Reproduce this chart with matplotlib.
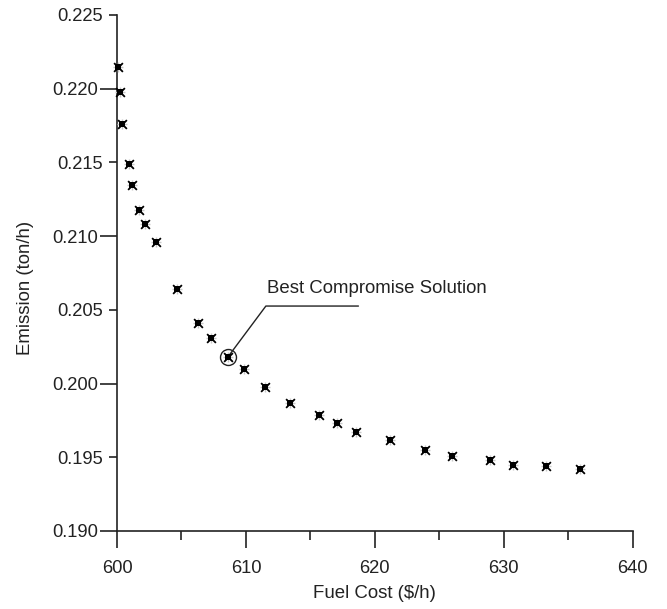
import numpy as np
import matplotlib
matplotlib.use("Agg")
import matplotlib.pyplot as plt
from matplotlib.ticker import MultipleLocator, FormatStrFormatter, NullFormatter

plt.rcParams["font.family"] = ["Liberation Sans", "DejaVu Sans"]

# Pareto front: fuel cost vs emission
fuel_cost = [600.08, 600.23, 600.39, 600.97, 601.16, 601.71, 602.17, 603.02,
             604.65, 606.28, 607.29, 608.60, 609.84, 611.47, 613.41, 615.66,
             617.09, 618.57, 621.16, 623.88, 625.97, 628.95, 630.70, 633.26,
             635.89]
emission = [0.2215, 0.2198, 0.2176, 0.2149, 0.2135, 0.2118, 0.2108, 0.2096,
            0.2064, 0.2041, 0.2031, 0.2018, 0.2010, 0.1998, 0.1987, 0.1979,
            0.1973, 0.1967, 0.1962, 0.1955, 0.1951, 0.1948, 0.1945, 0.1944,
            0.1942]
best_idx = 11
best_label = "Best Compromise Solution"

fig = plt.figure(figsize=(6.67, 6.09), dpi=100)
ax = fig.add_axes([0.1754, 0.1281, 0.7732, 0.8473])

# star-like markers: grey halo + black cross + black square core
ax.scatter(fuel_cost, emission, marker="+", s=50, color="#c8c8c8", lw=1.0,
           clip_on=False, zorder=3)
ax.scatter(fuel_cost, emission, marker="x", s=40, color="black", lw=1.3,
           clip_on=False, zorder=4)
ax.scatter(fuel_cost, emission, marker="s", s=14, color="black", lw=0,
           clip_on=False, zorder=5)

bx, by = fuel_cost[best_idx], emission[best_idx]
ax.plot([bx], [by], marker="o", ms=11.5, mfc="none", mec="#222222", mew=1.0,
        zorder=6)
# leader line: diagonal up to the elbow, then horizontal
ax.annotate("", xy=(bx, by), xycoords="data",
            xytext=(94, 36.7), textcoords="offset points",
            arrowprops=dict(arrowstyle="-", color="#222222", lw=1.0,
                            shrinkA=0, shrinkB=0,
                            connectionstyle="angle,angleA=0,angleB=53.3,rad=0"))
ax.annotate(best_label, xy=(bx, by), xycoords="data",
            xytext=(28, 49), textcoords="offset points",
            ha="left", va="center", fontsize=13.4, color="#222222")

ax.set_xlim(600, 640)
ax.set_ylim(0.190, 0.225)
for s in ("top", "right"):
    ax.spines[s].set_visible(False)
for s in ("left", "bottom"):
    ax.spines[s].set_linewidth(1.2)
    ax.spines[s].set_color("#222222")

ax.xaxis.set_major_locator(MultipleLocator(10))
ax.xaxis.set_minor_locator(MultipleLocator(5))
ax.xaxis.set_minor_formatter(NullFormatter())
ax.yaxis.set_major_locator(MultipleLocator(0.01))
ax.yaxis.set_minor_locator(MultipleLocator(0.005))
ax.yaxis.set_major_formatter(FormatStrFormatter("%.3f"))
ax.yaxis.set_minor_formatter(FormatStrFormatter("%.3f"))

ax.tick_params(axis="x", which="major", direction="out", length=12.2, width=1.2,
               pad=8.5, labelsize=13.2, colors="#222222")
ax.tick_params(axis="x", which="minor", direction="out", length=6.5, width=1.2,
               colors="#222222")
ax.tick_params(axis="y", which="major", direction="out", length=12.2, width=1.2,
               pad=1.5, labelsize=13.2, colors="#222222")
ax.tick_params(axis="y", which="minor", direction="out", length=5.8, width=1.2,
               pad=4.3, labelsize=13.2, colors="#222222")

ax.set_xlabel("Fuel Cost ($/h)", fontsize=13.4, color="#222222")
ax.set_ylabel("Emission (ton/h)", fontsize=13.4, color="#222222")
ax.xaxis.set_label_coords(0.5, -0.105)
ax.yaxis.set_label_coords(-0.16, 0.471)

fig.savefig("out.png", dpi=100)
